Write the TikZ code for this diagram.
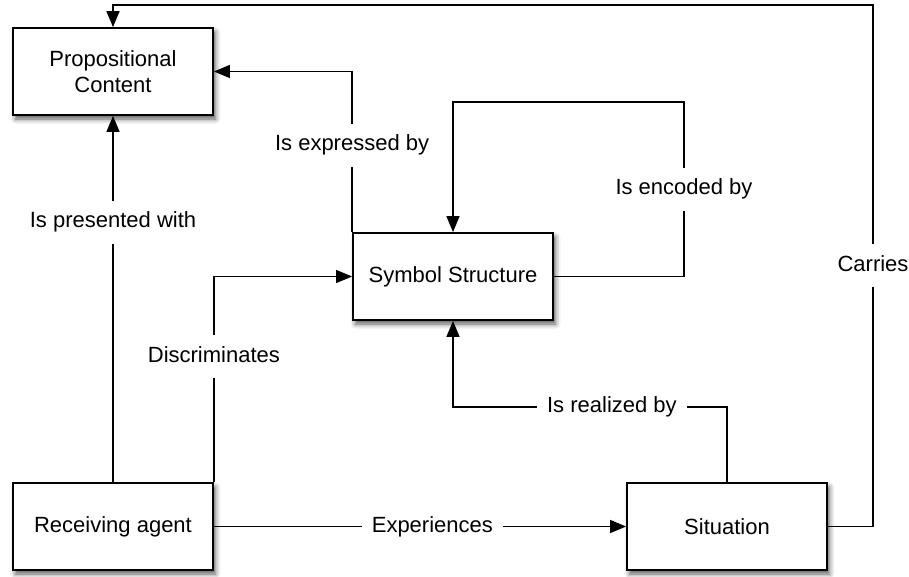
\documentclass[tikz,border=0pt]{standalone}
\usepackage{fontspec}
\setmainfont{Liberation Sans}
\usetikzlibrary{arrows.meta,shadows.blur}
\begin{document}
\begin{tikzpicture}[x=1pt,y=-1pt,
  font=\fontsize{22}{26}\selectfont,
  box/.style={draw=black,line width=1.8pt,fill=white,minimum width=200pt,minimum height=87pt,
    align=center,inner sep=0pt,
    blur shadow={shadow xshift=2.5pt,shadow yshift=-4pt,shadow blur radius=5pt,shadow opacity=65}},
  conn/.style={line width=1.4pt,-{Triangle[length=16pt,width=13pt]}},
  lbl/.style={fill=white,inner xsep=10pt,inner ysep=11pt,text height=16pt,text depth=5pt}]
\useasboundingbox (0,0) rectangle (909,576);

% boxes
\node[box] (pc)  at (113,71.5)  {Propositional\\Content};
\node[box] (ss)  at (453,276.5) {Symbol Structure};
\node[box] (ra)  at (113,526.5) {Receiving agent};
\node[box] (sit) at (727,526.5) {Situation};

% corner points of routed connectors
\coordinate (cTopR) at (873,5);
\coordinate (cEncR) at (684,102);
\coordinate (cRealL) at (453,407);

% connectors
\draw[conn] (sit.east) -| node[lbl,pos=0.75]{Carries} (cTopR) -| (pc.north);
\draw[conn] (ss.north west) |- node[lbl,pos=0.27]{Is expressed by} (pc.east);
\draw[conn] (ss.east) -| node[lbl,pos=0.75]{Is encoded by} (cEncR) -| (ss.north);
\draw[conn] (ra.north) -- node[lbl,pos=0.71]{Is presented with} (pc.south);
\draw[conn] (ra.north east) |- node[lbl,pos=0.305]{Discriminates} (ss.west);
\draw[conn] (ra.east) -- node[lbl,pos=0.53]{Experiences} (sit.west);
\draw[conn] (sit.north) |- node[lbl,pos=0.71]{Is realized by} (cRealL) -- (ss.south);
\end{tikzpicture}
\end{document}
